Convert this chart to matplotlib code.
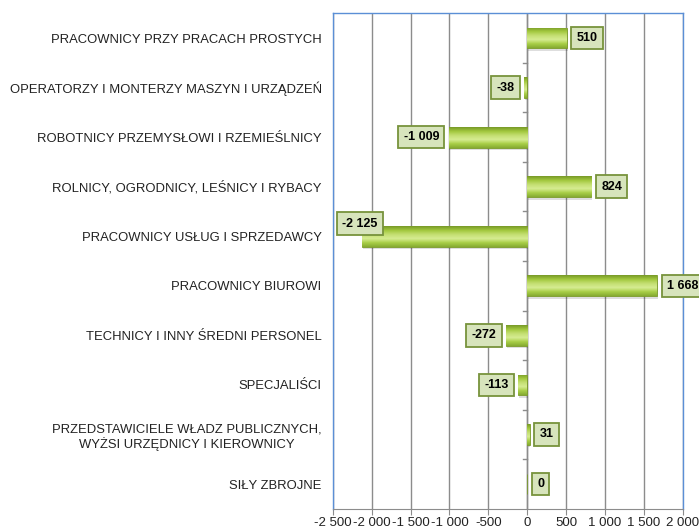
import numpy as np
import matplotlib.pyplot as plt
from matplotlib.colors import LinearSegmentedColormap

plt.rcParams['font.family'] = ['Liberation Sans', 'DejaVu Sans']

categories = [
    "PRACOWNICY PRZY PRACACH PROSTYCH",
    "OPERATORZY I MONTERZY MASZYN I URZĄDZEŃ",
    "ROBOTNICY PRZEMYSŁOWI I RZEMIEŚLNICY",
    "ROLNICY, OGRODNICY, LEŚNICY I RYBACY",
    "PRACOWNICY USŁUG I SPRZEDAWCY",
    "PRACOWNICY BIUROWI",
    "TECHNICY I INNY ŚREDNI PERSONEL",
    "SPECJALIŚCI",
    "PRZEDSTAWICIELE WŁADZ PUBLICZNYCH,\nWYŻSI URZĘDNICY I KIEROWNICY",
    "SIŁY ZBROJNE",
]
values = [510, -38, -1009, 824, -2125, 1668, -272, -113, 31, 0]
xticks = [-2500, -2000, -1500, -1000, -500, 0, 500, 1000, 1500, 2000]


def fmt(v):
    s = f"{abs(v):,}".replace(",", " ")
    return ("-" if v < 0 else "") + s


fig = plt.figure(figsize=(6.99, 5.30), dpi=100)
ax = fig.add_axes([0.476, 0.04, 0.501, 0.935])

y = np.arange(len(categories))
bars = ax.barh(y, values, height=0.42, color='#9bc23c', edgecolor='#7a9a2a',
               linewidth=0.6, zorder=3)

ax.set_xlim(-2500, 2000)
ax.set_ylim(len(categories) - 0.5, -0.5)

# gradient on each bar
cmap = LinearSegmentedColormap.from_list('g', ['#789a28', '#a2c83e', '#c4df72', '#d6ec92', '#a9cf48', '#86ab32'])
grad = np.linspace(0, 1, 64).reshape(-1, 1)
for b in bars:
    x0, y0, w, h = b.get_x(), b.get_y(), b.get_width(), b.get_height()
    if w == 0:
        continue
    im = ax.imshow(grad[::-1], cmap=cmap, aspect='auto', origin='lower',
                   extent=(x0, x0 + w, y0 + h, y0), zorder=4)
    im.set_clip_path(b)
    # shadow
    ax.barh(y0 + h / 2 + 0.05, w, left=x0 + 8, height=h, color='#000000', alpha=0.13,
            zorder=2, linewidth=0)

ax.set_xlim(-2500, 2000)
ax.set_ylim(len(categories) - 0.5, -0.5)

# gridlines
ax.set_xticks(xticks)
ax.set_xticklabels([fmt(t) for t in xticks], fontsize=9.5, color='#222222')
ax.xaxis.grid(True, color='#8c8c8c', linewidth=1.0, zorder=0)
ax.set_axisbelow(True)
ax.tick_params(axis='x', length=4, color='#8c8c8c', pad=2)

ax.set_yticks(y)
ax.set_yticklabels(categories, fontsize=9.4, color='#222222', multialignment='center')
ax.tick_params(axis='y', length=0, pad=8)

for side in ['left', 'right', 'top']:
    ax.spines[side].set_color('#5b8fd6')
    ax.spines[side].set_linewidth(1.0)
ax.spines['bottom'].set_color('#8c8c8c')

# category axis at zero with small ticks
ax.axvline(0, color='#8c8c8c', linewidth=1.0, zorder=1)
for bnd in np.arange(0.5, len(categories) - 0.5, 1.0):
    ax.plot([-60, 0], [bnd, bnd], color='#8c8c8c', linewidth=1.0, zorder=1)

# value labels
xmin = ax.get_xlim()[0]
for yi, v in zip(y, values):
    box = dict(boxstyle='square,pad=0.42', facecolor='#d7e4bc', edgecolor='#77933c', linewidth=1.3)
    if v < 0 and v < xmin * 0.8:
        ax.annotate(fmt(v), xy=(v, yi), xytext=(-14, 9), textcoords='offset points',
                    ha='left', va='center', fontsize=9, fontweight='bold', bbox=box,
                    zorder=6, annotation_clip=False)
    elif v < 0:
        ax.annotate(fmt(v), xy=(v, yi), xytext=(-7, 0), textcoords='offset points',
                    ha='right', va='center', fontsize=9, fontweight='bold', bbox=box,
                    zorder=6)
    else:
        ax.annotate(fmt(v), xy=(v, yi), xytext=(7, 0), textcoords='offset points',
                    ha='left', va='center', fontsize=9, fontweight='bold', bbox=box,
                    zorder=6, annotation_clip=False)

fig.savefig('out.png', dpi=100)
